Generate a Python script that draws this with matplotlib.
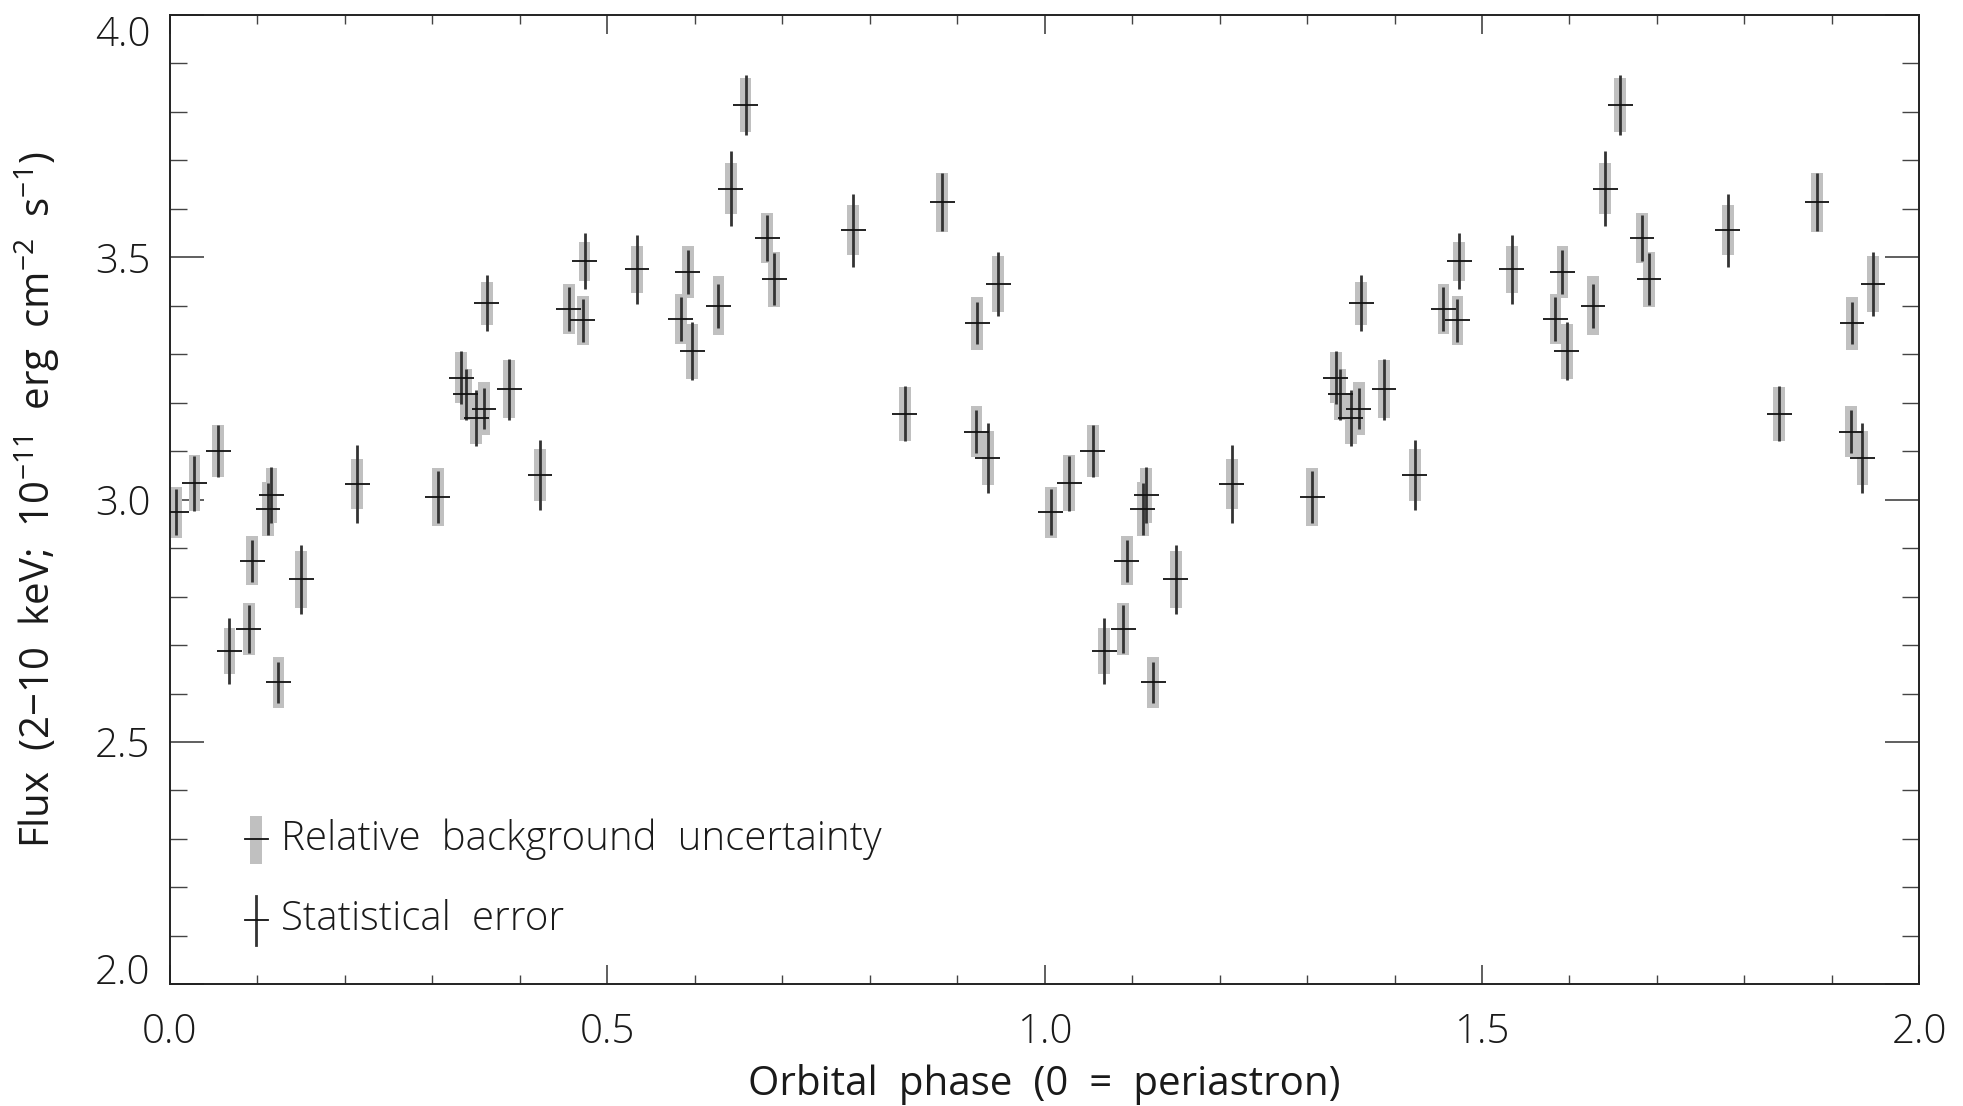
import numpy as np
import matplotlib
matplotlib.use("Agg")
import matplotlib.pyplot as plt
from matplotlib.ticker import MultipleLocator, FormatStrFormatter

# Phase-folded 2-10 keV fluxes over one orbit (phase 0 = periastron)
phase = [0.007, 0.028, 0.055, 0.068, 0.090, 0.094, 0.112, 0.116, 0.124, 0.150,
         0.214, 0.306, 0.333, 0.338, 0.350, 0.359, 0.362, 0.388, 0.423, 0.456,
         0.472, 0.474, 0.534, 0.584, 0.592, 0.597, 0.627, 0.641, 0.658, 0.683,
         0.691, 0.781, 0.840, 0.883, 0.922, 0.923, 0.935, 0.947]
flux = [2.974, 3.034, 3.100, 2.688, 2.733, 2.874, 2.981, 3.009, 2.623, 2.836,
        3.032, 3.006, 3.252, 3.217, 3.168, 3.188, 3.405, 3.228, 3.051, 3.393,
        3.370, 3.492, 3.475, 3.373, 3.470, 3.306, 3.400, 3.642, 3.814, 3.540,
        3.455, 3.556, 3.177, 3.614, 3.140, 3.364, 3.086, 3.445]
# Statistical (1 sigma) errors
stat_err = [0.047, 0.057, 0.053, 0.068, 0.050, 0.043, 0.054, 0.058, 0.043, 0.071,
            0.080, 0.054, 0.054, 0.053, 0.058, 0.043, 0.058, 0.063, 0.072, 0.045,
            0.045, 0.058, 0.072, 0.046, 0.046, 0.060, 0.045, 0.078, 0.062, 0.048,
            0.053, 0.075, 0.057, 0.059, 0.044, 0.043, 0.072, 0.067]
# Relative background uncertainty
bkg_err = [0.053, 0.058, 0.053, 0.047, 0.054, 0.051, 0.055, 0.057, 0.053, 0.059,
           0.052, 0.060, 0.053, 0.052, 0.053, 0.054, 0.045, 0.060, 0.054, 0.051,
           0.051, 0.040, 0.049, 0.052, 0.053, 0.057, 0.061, 0.052, 0.056, 0.051,
           0.057, 0.051, 0.056, 0.061, 0.053, 0.055, 0.055, 0.058]
n_cycles = 2

phase_half_bin = 0.0142
bkg_box_width = 0.0135

plt.rcParams["font.family"] = ["Open Sans", "DejaVu Sans"]
plt.rcParams["font.weight"] = "light"
plt.rcParams["mathtext.default"] = "regular"
TXT = "#1a1a1a"
FS = 29

fig = plt.figure(figsize=(19.63, 11.06), dpi=100)
ax = fig.add_axes([170 / 1963, 1 - 984.3 / 1106, 1749.3 / 1963, 969.3 / 1106])

ph = np.asarray(phase)
fl = np.asarray(flux)
se = np.asarray(stat_err)
be = np.asarray(bkg_err)

for k in range(n_cycles):
    x = ph + k
    ax.bar(x, 2 * be, bottom=fl - be, width=bkg_box_width,
           color="#c0c0c0", edgecolor="none", zorder=2)
    ax.errorbar(x, fl, yerr=se, fmt="none", ecolor="#333333",
                elinewidth=2.0, capsize=0, zorder=3)
    ax.errorbar(x, fl, xerr=phase_half_bin, fmt="none", ecolor="#111111",
                elinewidth=1.3, capsize=0, zorder=4)

ax.set_xlim(0, 2)
ax.set_ylim(2.0, 4.0)
ax.xaxis.set_major_locator(MultipleLocator(0.5))
ax.xaxis.set_minor_locator(MultipleLocator(0.1))
ax.yaxis.set_major_locator(MultipleLocator(0.5))
ax.yaxis.set_minor_locator(MultipleLocator(0.1))
ax.xaxis.set_major_formatter(FormatStrFormatter("%.1f"))
ax.yaxis.set_major_formatter(FormatStrFormatter("%.1f"))

ax.tick_params(axis="x", which="major", direction="in", length=14, width=1.2,
               top=True, bottom=True, pad=20, labelsize=FS, colors="#444444",
               labelcolor=TXT)
ax.tick_params(axis="x", which="minor", direction="in", length=6.8, width=1.0,
               top=True, bottom=True, colors="#444444")
ax.tick_params(axis="y", which="major", direction="in", length=24.5, width=1.2,
               left=True, right=True, pad=14, labelsize=FS, colors="#444444",
               labelcolor=TXT)
ax.tick_params(axis="y", which="minor", direction="in", length=12.2, width=1.0,
               left=True, right=True, colors="#444444")
for s in ax.spines.values():
    s.set_linewidth(1.4)
    s.set_color("#222222")

# Keep the end labels of the flux axis inside the frame
fig.canvas.draw()
for lab in ax.get_yticklabels():
    if lab.get_text() == "4.0":
        lab.set_va("top")
    elif lab.get_text() == "2.0":
        lab.set_va("baseline")

ax.set_xlabel("Orbital  phase  (0  =  periastron)", fontsize=FS, color=TXT, va="top")
ax.xaxis.set_label_coords(0.5, -0.082)
ax.set_ylabel("Flux  (2\u221210  keV;  10$^{-11}$  erg  cm$^{-2}$  s$^{-1}$)",
              fontsize=FS, color=TXT)
ax.yaxis.set_label_coords(-0.062, 0.5)

# Key for the two kinds of error
tA = ax.transAxes
ax.add_patch(plt.Rectangle((0.0494 - 0.0035, 0.124), 0.0069, 0.0496,
                           transform=tA, color="#c0c0c0", lw=0, zorder=2))
ax.plot([0.0429, 0.0560], [0.150, 0.150], transform=tA, color="#111111", lw=1.3)
ax.plot([0.0494, 0.0494], [0.0406, 0.0912], transform=tA, color="#333333", lw=2.0)
ax.plot([0.0429, 0.0560], [0.0664, 0.0664], transform=tA, color="#111111", lw=1.3)
ax.text(0.0637, 0.150, "Relative  background  uncertainty", transform=tA,
        fontsize=FS, color=TXT, va="center", ha="left")
ax.text(0.0637, 0.0664, "Statistical  error", transform=tA,
        fontsize=FS, color=TXT, va="center", ha="left")

fig.savefig("out.png", dpi=100, facecolor="white")
